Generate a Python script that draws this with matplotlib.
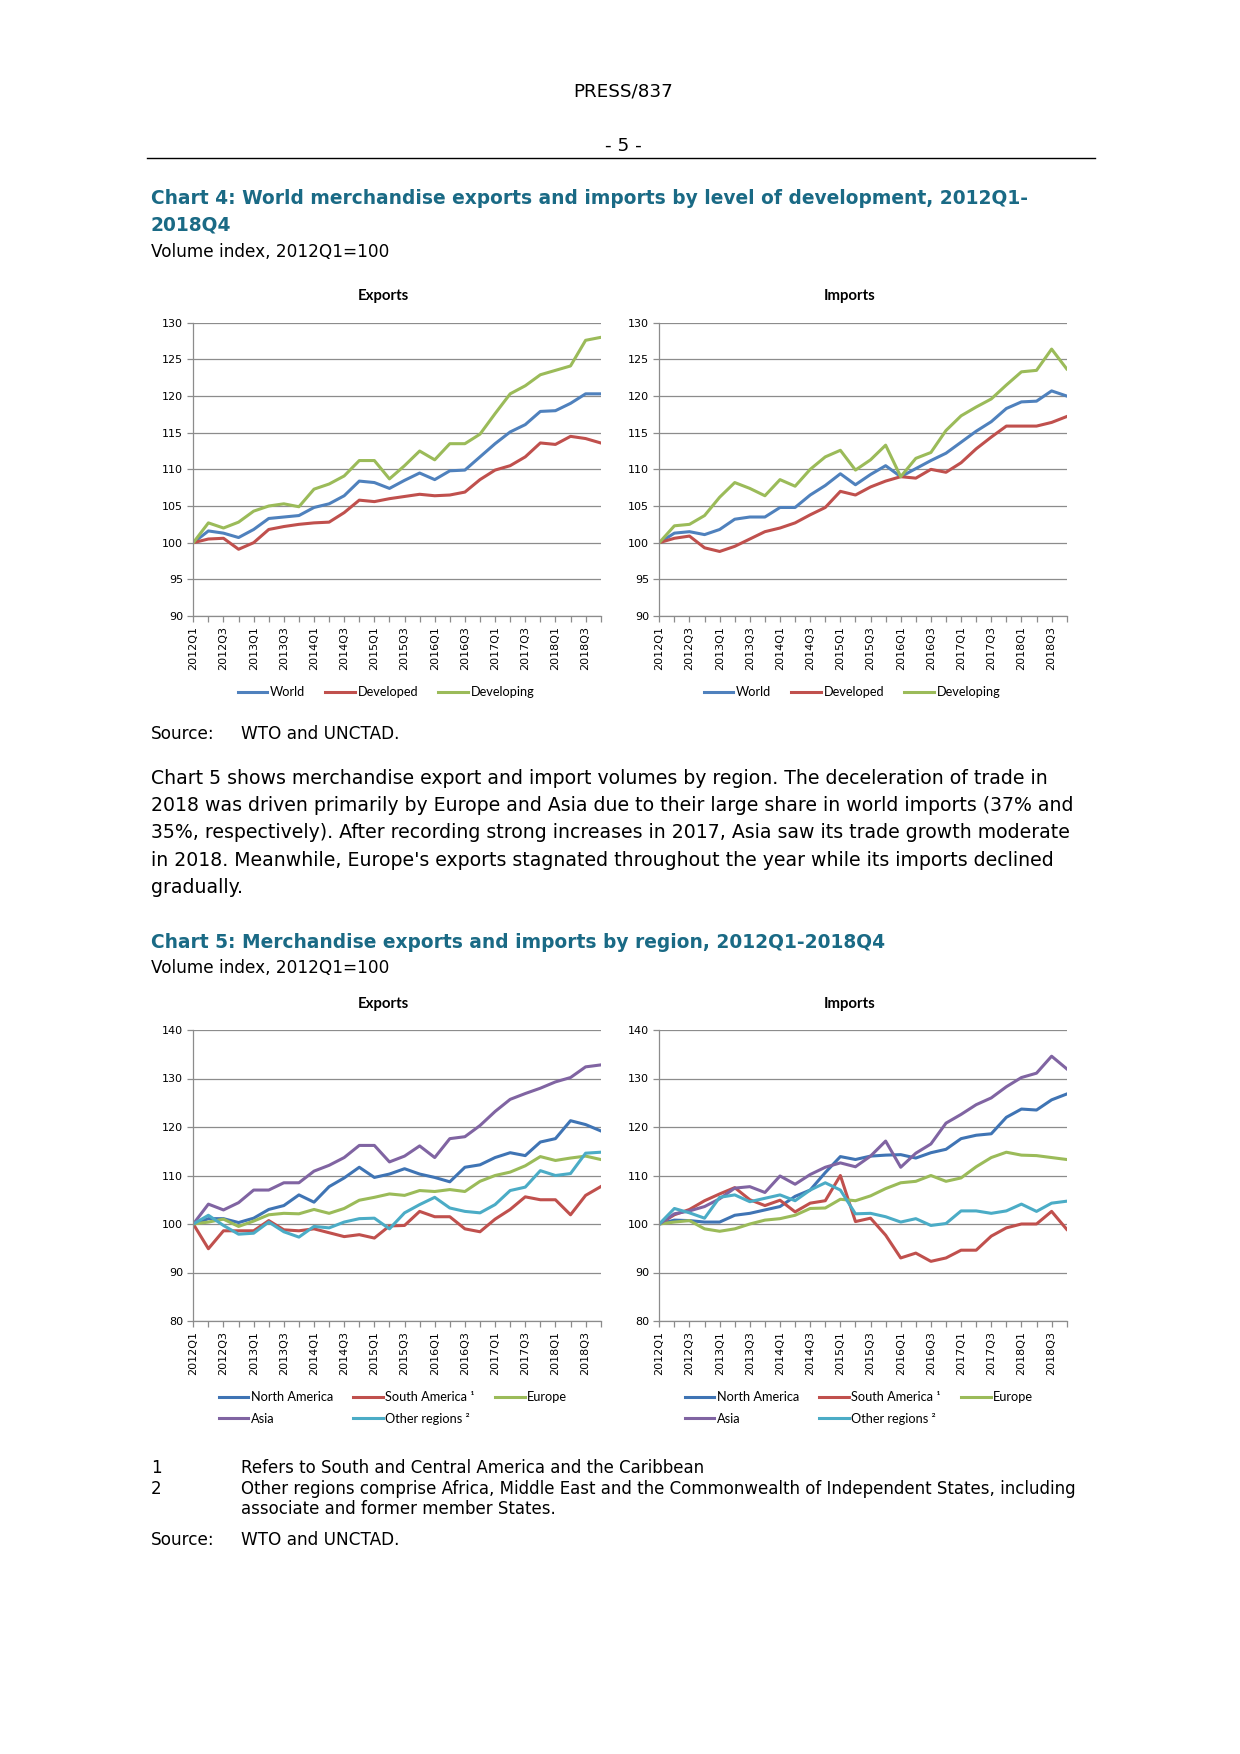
import matplotlib
matplotlib.use("Agg")
import matplotlib.pyplot as plt
from matplotlib.lines import Line2D

quarters = [f"{y}Q{q}" for y in range(2012, 2019) for q in range(1, 5)]

# Chart 4 - by level of development
c4_exp_world = [100, 101.6, 101.3, 100.7, 101.8, 103.3, 103.5, 103.7, 104.8, 105.3, 106.4, 108.4, 108.2, 107.4,
                108.5, 109.5, 108.6, 109.8, 109.9, 111.7, 113.5, 115.1, 116.1, 117.9, 118.0, 119.0, 120.3, 120.3]
c4_exp_developed = [100, 100.5, 100.6, 99.1, 100.0, 101.8, 102.2, 102.5, 102.7, 102.8, 104.1, 105.8, 105.6, 106.0,
                    106.3, 106.6, 106.4, 106.5, 106.9, 108.6, 109.9, 110.5, 111.7, 113.6, 113.4, 114.5, 114.2, 113.6]
c4_exp_developing = [100, 102.7, 102.0, 102.8, 104.3, 105.0, 105.3, 104.9, 107.3, 108.0, 109.1, 111.2, 111.2, 108.7,
                     110.5, 112.5, 111.3, 113.5, 113.5, 114.8, 117.6, 120.3, 121.4, 122.9, 123.5, 124.1, 127.6, 128.0]

c4_imp_world = [100, 101.3, 101.5, 101.1, 101.8, 103.2, 103.5, 103.5, 104.8, 104.8, 106.5, 107.8, 109.4, 107.9,
                109.3, 110.5, 109.0, 110.1, 111.2, 112.2, 113.7, 115.2, 116.5, 118.3, 119.2, 119.3, 120.7, 120.0]
c4_imp_developed = [100, 100.6, 100.9, 99.3, 98.8, 99.5, 100.5, 101.5, 102.0, 102.7, 103.8, 104.8, 107.0, 106.5,
                    107.6, 108.4, 109.0, 108.8, 110.0, 109.6, 110.9, 112.8, 114.4, 115.9, 115.9, 115.9, 116.4, 117.2]
c4_imp_developing = [100, 102.3, 102.5, 103.7, 106.2, 108.2, 107.4, 106.4, 108.6, 107.7, 110.0, 111.7, 112.6, 109.9,
                     111.3, 113.3, 109.0, 111.5, 112.3, 115.3, 117.3, 118.5, 119.6, 121.5, 123.3, 123.5, 126.4, 123.7]

# Chart 5 - by region
c5_exp_namerica = [100, 101.1, 101.1, 100.3, 101.2, 103.0, 103.8, 106.0, 104.5, 107.7, 109.5, 111.7, 109.6, 110.3,
                   111.4, 110.3, 109.6, 108.7, 111.7, 112.2, 113.7, 114.7, 114.1, 116.9, 117.6, 121.3, 120.5, 119.2]
c5_exp_samerica = [100, 94.9, 98.6, 98.6, 98.6, 100.7, 98.8, 98.6, 99.0, 98.2, 97.4, 97.8, 97.1, 99.6,
                   99.7, 102.6, 101.5, 101.5, 99.0, 98.4, 101.0, 103.0, 105.6, 105.0, 105.0, 101.9, 105.9, 107.7]
c5_exp_europe = [100, 100.4, 101.0, 99.5, 100.6, 101.9, 102.2, 102.1, 103.0, 102.2, 103.2, 104.9, 105.5, 106.2,
                 105.9, 106.9, 106.7, 107.1, 106.7, 108.8, 110.0, 110.7, 112.0, 113.9, 113.1, 113.6, 114.0, 113.3]
c5_exp_asia = [100, 104.1, 102.9, 104.4, 107.0, 107.0, 108.5, 108.5, 110.9, 112.1, 113.7, 116.2, 116.2, 112.8,
               114.0, 116.1, 113.7, 117.6, 118.0, 120.3, 123.2, 125.7, 126.9, 128.0, 129.3, 130.2, 132.4, 132.8]
c5_exp_other = [100, 101.8, 99.7, 97.9, 98.1, 100.4, 98.4, 97.3, 99.5, 99.2, 100.4, 101.1, 101.2, 99.0,
                102.3, 104.0, 105.5, 103.3, 102.6, 102.3, 104.0, 106.9, 107.6, 111.0, 110.0, 110.4, 114.6, 114.8]

c5_imp_namerica = [100, 100.8, 100.7, 100.4, 100.4, 101.8, 102.2, 102.9, 103.6, 105.7, 107.0, 110.6, 113.9, 113.3,
                   114.0, 114.2, 114.3, 113.6, 114.7, 115.4, 117.6, 118.3, 118.6, 122.0, 123.7, 123.5, 125.6, 126.8]
c5_imp_samerica = [100, 101.9, 103.0, 104.8, 106.2, 107.5, 105.0, 103.8, 104.9, 102.5, 104.3, 104.8, 110.0, 100.5,
                   101.2, 97.7, 93.0, 94.0, 92.3, 93.0, 94.6, 94.6, 97.5, 99.2, 100.0, 100.0, 102.6, 98.9]
c5_imp_europe = [100, 100.4, 100.7, 99.0, 98.5, 99.0, 100.0, 100.8, 101.1, 101.8, 103.2, 103.3, 105.1, 104.8,
                 105.8, 107.3, 108.5, 108.8, 110.0, 108.8, 109.5, 111.8, 113.7, 114.8, 114.2, 114.1, 113.7, 113.3]
c5_imp_asia = [100, 102.1, 102.7, 103.6, 105.2, 107.4, 107.7, 106.5, 109.9, 108.2, 110.2, 111.7, 112.6, 111.8,
               114.0, 117.1, 111.7, 114.6, 116.5, 120.8, 122.6, 124.6, 126.0, 128.3, 130.2, 131.1, 134.6, 132.0]
c5_imp_other = [100, 103.2, 102.3, 101.2, 105.5, 106.0, 104.6, 105.3, 106.0, 104.8, 107.0, 108.5, 107.0, 102.1,
                102.2, 101.5, 100.4, 101.1, 99.7, 100.1, 102.7, 102.7, 102.2, 102.7, 104.1, 102.6, 104.3, 104.7]

c4_labels = ["World", "Developed", "Developing"]
c5_labels = ["North America", "South America \u00b9", "Europe", "Asia", "Other regions \u00b2"]

BLUE, RED, GREEN, PURPLE, AQUA = "#4F81BD", "#C0504D", "#9BBB59", "#8064A2", "#4BACC6"
c4_colors = [BLUE, RED, GREEN]
c5_colors = ["#3F74B4", RED, GREEN, PURPLE, AQUA]

TEXT_FONT = "DejaVu Sans"
CHART_FONT = "Lato"
TEAL = "#1A6A85"

fig = plt.figure(figsize=(12.4, 17.54), dpi=100)
W, H = 1240.0, 1754.0


def fx(px):
    return px / W


def fy(py):
    return 1 - py / H


def txt(x, y, s, **kw):
    kw.setdefault("family", TEXT_FONT)
    kw.setdefault("fontsize", 12.2)
    kw.setdefault("va", "center")
    fig.text(fx(x), fy(y), s, **kw)


# page header
txt(623, 92, "PRESS/837", ha="center", fontsize=13.2)
txt(623, 146, "- 5 -", ha="center", fontsize=13.2)
fig.add_artist(Line2D([fx(147), fx(1095)], [fy(158), fy(158)], color="black", lw=1.0))

txt(151, 198, "Chart 4: World merchandise exports and imports by level of development, 2012Q1-",
    weight="bold", color=TEAL, fontsize=13.4)
txt(151, 225, "2018Q4", weight="bold", color=TEAL, fontsize=13.4)
txt(151, 252, "Volume index, 2012Q1=100")

txt(151, 734, "Source:")
txt(241, 734, "WTO and UNCTAD.")

para = [
    "Chart 5 shows merchandise export and import volumes by region. The deceleration of trade in",
    "2018 was driven primarily by Europe and Asia due to their large share in world imports (37% and",
    "35%, respectively). After recording strong increases in 2017, Asia saw its trade growth moderate",
    "in 2018. Meanwhile, Europe's exports stagnated throughout the year while its imports declined",
    "gradually.",
]
for i, line in enumerate(para):
    txt(151, 778 + i * 27.4, line, fontsize=13.6)

txt(151, 943, "Chart 5: Merchandise exports and imports by region, 2012Q1-2018Q4",
    weight="bold", color=TEAL, fontsize=13.4)
txt(151, 968, "Volume index, 2012Q1=100")

txt(151, 1468, "1", fontsize=12.0)
txt(241, 1468, "Refers to South and Central America and the Caribbean", fontsize=12.0)
txt(151, 1489, "2", fontsize=12.0)
txt(241, 1489, "Other regions comprise Africa, Middle East and the Commonwealth of Independent States, including",
    fontsize=12.0)
txt(241, 1509, "associate and former member States.", fontsize=12.0)
txt(151, 1540, "Source:")
txt(241, 1540, "WTO and UNCTAD.")


def panel(left, top, bottom, title, series, colors, labels, ylim, ystep, legend_xy, order, ncol):
    ax = fig.add_axes([fx(left), fy(bottom), fx(407.4), (bottom - top) / H])
    x = list(range(len(quarters)))
    lines = []
    for s, c, lab in zip(series, colors, labels):
        ln, = ax.plot(x, s, color=c, lw=2.2, label=lab)
        lines.append(ln)
    ax.set_xlim(0, len(quarters) - 1)
    ax.set_ylim(*ylim)
    ax.set_yticks(range(ylim[0], ylim[1] + 1, ystep))
    ax.yaxis.grid(True, color="#8C8C8C", lw=0.9)
    ax.set_axisbelow(True)
    ax.set_xticks(x, [q if i % 2 == 0 else "" for i, q in enumerate(quarters)], rotation=90)
    for side in ["top", "right"]:
        ax.spines[side].set_visible(False)
    for side in ["left", "bottom"]:
        ax.spines[side].set_color("#8C8C8C")
        ax.spines[side].set_linewidth(0.9)
    ax.tick_params(axis="both", color="#8C8C8C", length=4, width=0.9, labelsize=8.0)
    ax.tick_params(axis="x", pad=3)
    for lab in ax.get_xticklabels() + ax.get_yticklabels():
        lab.set_family(TEXT_FONT)
    ax.set_title(title, fontsize=10.8, weight="bold", family=CHART_FONT, pad=16, x=0.466)
    handles = [lines[i] for i in order]
    ax.legend(handles, [labels[i] for i in order], ncol=ncol, loc="center",
              bbox_to_anchor=(fx(legend_xy[0]), fy(legend_xy[1])), bbox_transform=fig.transFigure,
              frameon=False, prop={"family": CHART_FONT, "size": 9.2},
              handlelength=2.3, handletextpad=0.2, columnspacing=1.6, labelspacing=0.75,
              borderpad=0)
    return ax


c4_exp = [c4_exp_world, c4_exp_developed, c4_exp_developing]
c4_imp = [c4_imp_world, c4_imp_developed, c4_imp_developing]
c5_exp = [c5_exp_namerica, c5_exp_samerica, c5_exp_europe, c5_exp_asia, c5_exp_other]
c5_imp = [c5_imp_namerica, c5_imp_samerica, c5_imp_europe, c5_imp_asia, c5_imp_other]

panel(193.3, 322.7, 616, "Exports", c4_exp, c4_colors, c4_labels, (90, 130), 5, (386, 692), [0, 1, 2], 3)
panel(659.3, 322.7, 616, "Imports", c4_imp, c4_colors, c4_labels, (90, 130), 5, (852, 692), [0, 1, 2], 3)
panel(193.3, 1030, 1321, "Exports", c5_exp, c5_colors, c5_labels, (80, 140), 10, (393, 1408), [0, 3, 1, 4, 2], 3)
panel(659.3, 1030, 1321, "Imports", c5_imp, c5_colors, c5_labels, (80, 140), 10, (859, 1408), [0, 3, 1, 4, 2], 3)

fig.savefig("out.png", dpi=100, facecolor="white")
